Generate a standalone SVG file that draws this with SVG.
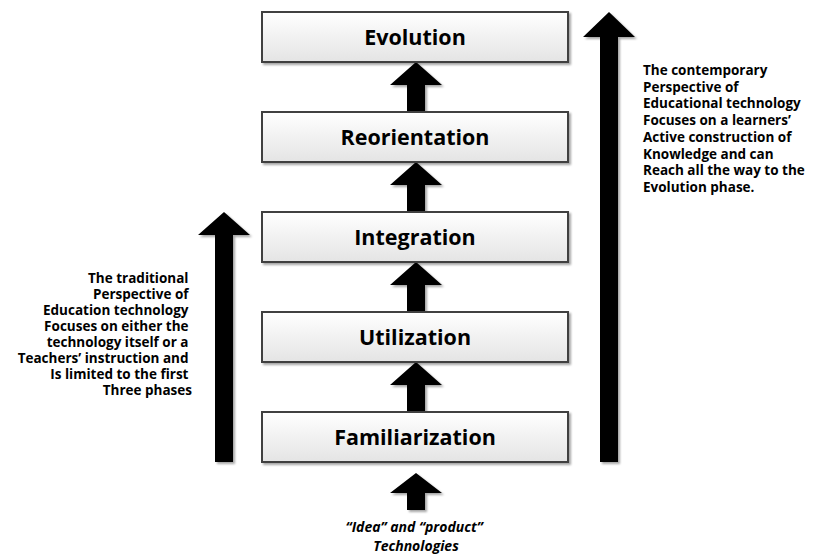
<svg xmlns="http://www.w3.org/2000/svg" width="813" height="557" viewBox="0 0 813 557">
<defs>
<linearGradient id="boxg" x1="0" y1="0" x2="0" y2="1">
<stop offset="0" stop-color="#ffffff"/>
<stop offset="1" stop-color="#e4e4e4"/>
</linearGradient>
<filter id="sh" x="-10%" y="-10%" width="130%" height="130%">
<feDropShadow dx="2" dy="2" stdDeviation="1.2" flood-color="#000" flood-opacity="0.35"/>
</filter>
</defs>
<style>
.box{fill:url(#boxg);stroke:#404040;stroke-width:2;filter:url(#sh)}
.lbl{font-family:"Open Sans","Liberation Sans",sans-serif;font-weight:bold;font-size:21.5px;fill:#000;text-anchor:middle}
.arr{fill:#000;filter:url(#sh)}
.side{font-family:"Open Sans","Liberation Sans",sans-serif;font-weight:bold;font-size:13.5px;fill:#000}
.src{font-family:"Open Sans","Liberation Sans",sans-serif;font-weight:bold;font-style:italic;font-size:14px;fill:#000;text-anchor:middle}
</style>
<rect width="813" height="557" fill="#fff"/>
<g id="connectors">
<polygon class="arr" points="416,62 442,85 425,85 425,112 407,112 407,85 390,85"/>
<polygon class="arr" points="416,162 442,185 425,185 425,212 407,212 407,185 390,185"/>
<polygon class="arr" points="416,262 442,285 425,285 425,312 407,312 407,285 390,285"/>
<polygon class="arr" points="416,362 442,385 425,385 425,412 407,412 407,385 390,385"/>
<polygon class="arr" points="416,473 442,493 425,493 425,510 407,510 407,493 390,493"/>
<polygon class="arr" points="224,212 250,235 233,235 233,462 215,462 215,235 198,235"/>
<polygon class="arr" points="609,12 635,37 618,37 618,462 600,462 600,37 583,37"/>
</g>
<g id="evolution">
<rect class="box" x="262" y="12" width="306" height="50"/>
<text class="lbl" x="415" y="44.5">Evolution</text>
</g>
<g id="reorientation">
<rect class="box" x="262" y="112" width="306" height="50"/>
<text class="lbl" x="415" y="144.5">Reorientation</text>
</g>
<g id="integration">
<rect class="box" x="262" y="212" width="306" height="50"/>
<text class="lbl" x="415" y="244.5">Integration</text>
</g>
<g id="utilization">
<rect class="box" x="262" y="312" width="306" height="50"/>
<text class="lbl" x="415" y="344.5">Utilization</text>
</g>
<g id="familiarization">
<rect class="box" x="262" y="412" width="306" height="50"/>
<text class="lbl" x="415" y="444.5">Familiarization</text>
</g>
<g id="traditional">
<text class="side" text-anchor="end">
<tspan x="192" y="283">The traditional</tspan>
<tspan x="192" y="299">Perspective of</tspan>
<tspan x="192" y="315">Education technology</tspan>
<tspan x="192" y="331">Focuses on either the</tspan>
<tspan x="192" y="347">technology itself or a</tspan>
<tspan x="192" y="363">Teachers’ instruction and</tspan>
<tspan x="192" y="379">Is limited to the first</tspan>
<tspan x="192" y="395">Three phases</tspan>
</text>
</g>
<g id="contemporary">
<text class="side">
<tspan x="643" y="75">The contemporary</tspan>
<tspan x="643" y="91.7">Perspective of</tspan>
<tspan x="643" y="108.4">Educational technology</tspan>
<tspan x="643" y="125.1">Focuses on a learners’</tspan>
<tspan x="643" y="141.8">Active construction of</tspan>
<tspan x="643" y="158.5">Knowledge and can</tspan>
<tspan x="643" y="175.2">Reach all the way to the</tspan>
<tspan x="643" y="192">Evolution phase.</tspan>
</text>
</g>
<g id="source">
<text class="src">
<tspan x="416" y="532">“Idea” and “product”</tspan>
<tspan x="416" y="551">Technologies</tspan>
</text>
</g>
</svg>
